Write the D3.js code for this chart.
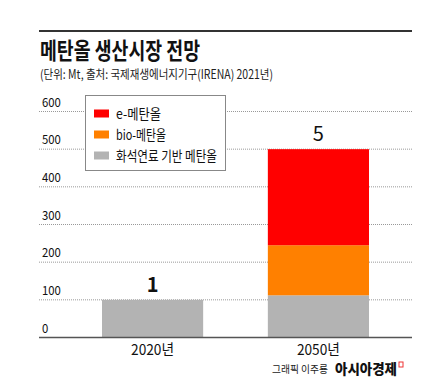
<!DOCTYPE html>
<html><head><meta charset="utf-8">
<script src="https://cdn.jsdelivr.net/npm/d3@7"></script>
<style>
html,body{margin:0;padding:0;background:#fff;}
text{font-family:"Noto Sans CJK KR","Noto Sans",sans-serif;}
</style></head>
<body>
<svg id="c" width="437" height="382"></svg>
<script>
const categories = ["2020년", "2050년"];
const seriesNames = ["화석연료 기반 메탄올", "bio-메탄올", "e-메탄올"];
const fossil = [100, 112];
const bio = [0, 133];
const eMeth = [0, 255];
const totalLabels = ["1", "5"];
const yTicks = [0, 100, 200, 300, 400, 500, 600];
const legendOrder = ["e-메탄올", "bio-메탄올", "화석연료 기반 메탄올"];
const colors = {"화석연료 기반 메탄올": "#b3b3b3", "bio-메탄올": "#ff8000", "e-메탄올": "#ff0000"};

const svg = d3.select("#c");
const left = 39, right = 412;

// top rule
svg.append("line").attr("x1", left).attr("x2", right).attr("y1", 31).attr("y2", 31)
  .attr("stroke", "#333").attr("stroke-width", 2);

// title
svg.append("text").attr("x", 40).attr("y", 59).text("메탄올 생산시장 전망")
  .attr("font-size", 23).attr("font-weight", 700).attr("fill", "#111")
  .attr("textLength", 160).attr("lengthAdjust", "spacingAndGlyphs");
svg.append("text").attr("x", 40).attr("y", 79).text("(단위: Mt, 출처: 국제재생에너지기구(IRENA) 2021년)")
  .attr("font-size", 12.5).attr("fill", "#222")
  .attr("textLength", 233).attr("lengthAdjust", "spacingAndGlyphs");

const y = d3.scaleLinear().domain([0, 600]).range([337.5, 111.5]);
const x = d3.scaleBand().domain(categories).range([102, 369]).paddingInner(0.39).paddingOuter(0);

// gridlines
const grid = svg.append("g");
yTicks.filter(t => t > 0).forEach(t => {
  grid.append("line").attr("x1", left).attr("x2", right).attr("y1", y(t)).attr("y2", y(t))
    .attr("stroke", "#999").attr("stroke-width", 1).attr("stroke-dasharray", "1,1");
});
yTicks.forEach(t => {
  svg.append("text").attr("x", 42).attr("y", y(t) - 5).text(t)
    .attr("font-size", 12.5).attr("fill", "#111")
    .attr("textLength", String(t).length * 6.3).attr("lengthAdjust", "spacingAndGlyphs");
});

// stacked bars
const data = categories.map((c, i) => ({cat: c, "화석연료 기반 메탄올": fossil[i], "bio-메탄올": bio[i], "e-메탄올": eMeth[i]}));
const stack = d3.stack().keys(seriesNames)(data);
stack.forEach(layer => {
  svg.append("g").selectAll("rect").data(layer).join("rect")
    .attr("x", d => x(d.data.cat)).attr("width", x.bandwidth())
    .attr("y", d => y(d[1])).attr("height", d => y(d[0]) - y(d[1]))
    .attr("fill", colors[layer.key]);
});

// baseline
svg.append("line").attr("x1", left).attr("x2", right).attr("y1", y(0)).attr("y2", y(0))
  .attr("stroke", "#555").attr("stroke-width", 1.5);

// total labels
categories.forEach((c, i) => {
  const tot = fossil[i] + bio[i] + eMeth[i];
  svg.append("text").attr("x", x(c) + x.bandwidth() / 2).attr("y", y(tot) - 8)
    .attr("text-anchor", "middle").text(totalLabels[i])
    .attr("font-size", 20).attr("font-weight", i === 0 ? 700 : 400).attr("fill", "#111");
  svg.append("text").attr("x", x(c) + x.bandwidth() / 2).attr("y", 355)
    .attr("text-anchor", "middle").text(c)
    .attr("font-size", 15).attr("fill", "#111")
    .attr("textLength", 43).attr("lengthAdjust", "spacingAndGlyphs");
});

// legend
const lg = svg.append("g");
lg.append("rect").attr("x", 85.5).attr("y", 95.5).attr("width", 140).attr("height", 75)
  .attr("fill", "#fff").attr("stroke", "#888").attr("stroke-width", 1);
const lw = {"e-메탄올": 45, "bio-메탄올": 50, "화석연료 기반 메탄올": 101};
legendOrder.forEach((k, i) => {
  const cy = 113.5 + i * 21;
  lg.append("rect").attr("x", 94).attr("y", cy - 4).attr("width", 15).attr("height", 8).attr("fill", colors[k]);
  lg.append("text").attr("x", 116).attr("y", cy + 5).text(k)
    .attr("font-size", 14).attr("fill", "#111")
    .attr("textLength", lw[k]).attr("lengthAdjust", "spacingAndGlyphs");
});

// credit
svg.append("text").attr("x", 272).attr("y", 373).text("그래픽 이주룡")
  .attr("font-size", 10.5).attr("fill", "#222")
  .attr("textLength", 56).attr("lengthAdjust", "spacingAndGlyphs");
svg.append("text").attr("x", 335).attr("y", 374).text("아시아경제")
  .attr("font-size", 14).attr("font-weight", 900).attr("fill", "#111")
  .attr("textLength", 62).attr("lengthAdjust", "spacingAndGlyphs");
svg.append("rect").attr("x", 399).attr("y", 362).attr("width", 4).attr("height", 5)
  .attr("fill", "none").attr("stroke", "#e33").attr("stroke-width", 1);
</script>
</body></html>
